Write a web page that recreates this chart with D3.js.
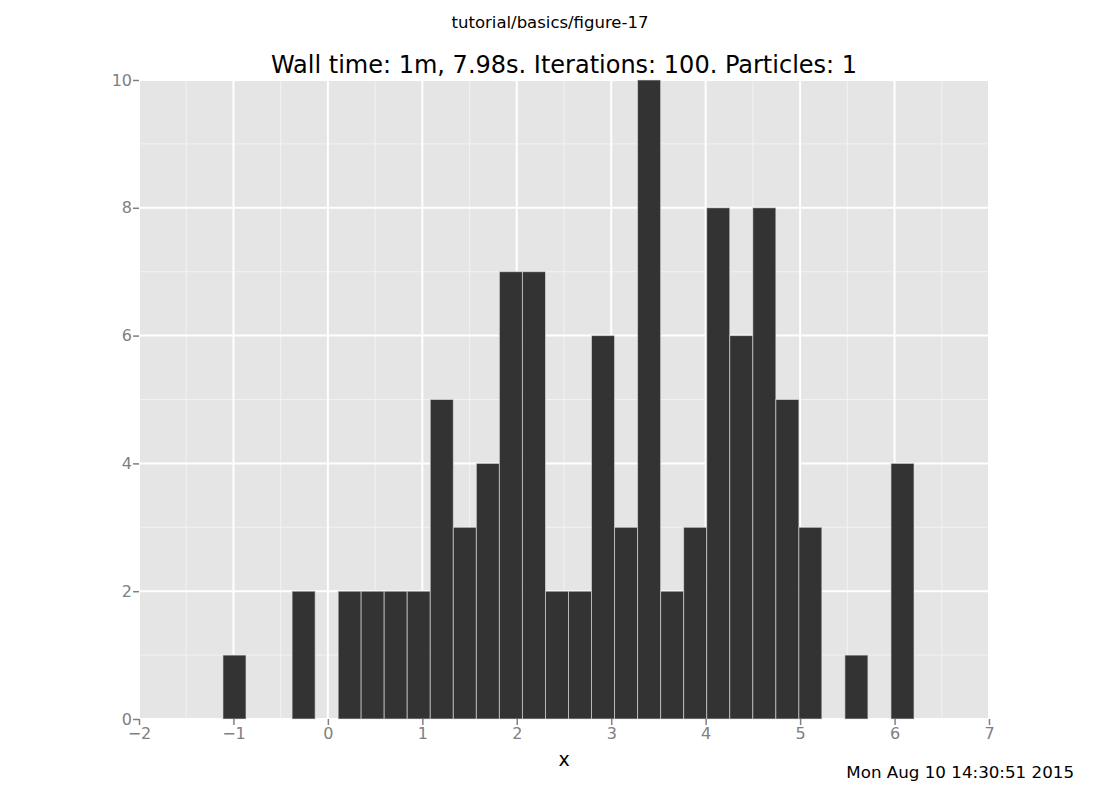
<!DOCTYPE html>
<html>
<head>
<meta charset="utf-8">
<script src="https://cdn.jsdelivr.net/npm/d3@7"></script>
<style>
  body { margin: 0; background: #fff; }
  text { font-family: 'DejaVu Sans', sans-serif; }
</style>
</head>
<body>
<svg id="chart" width="1100" height="800"></svg>
<script>
// histogram bin edges (30 bins) and counts per bin
const binEdges = [-1.111, -0.867, -0.623, -0.379, -0.135, 0.109, 0.352, 0.596, 0.840, 1.084,
  1.328, 1.572, 1.816, 2.060, 2.304, 2.548, 2.791, 3.035, 3.279, 3.523,
  3.767, 4.011, 4.255, 4.499, 4.743, 4.987, 5.230, 5.474, 5.718, 5.962, 6.206]
const counts = [1, 0, 0, 2, 0, 2, 2, 2, 2, 5, 3, 4, 7, 7, 2, 2, 6, 3, 10, 2,
  3, 8, 6, 8, 5, 3, 0, 1, 0, 4]
const xTicks = [-2, -1, 0, 1, 2, 3, 4, 5, 6, 7]
const yTicks = [0, 2, 4, 6, 8, 10]
const xMinor = [-1.5, -0.5, 0.5, 1.5, 2.5, 3.5, 4.5, 5.5, 6.5]
const yMinor = [1, 3, 5, 7, 9]

const margin = { left: 139, top: 80, right: 111, bottom: 81 }
const width = 1100 - margin.left - margin.right
const height = 800 - margin.top - margin.bottom

const svg = d3.select('#chart')

const bins = counts.map((c, i) => ({ x0: binEdges[i], x1: binEdges[i + 1], n: c }))

const x = d3.scaleLinear().domain([-2, 7]).range([0, width])
const y = d3.scaleLinear().domain([0, 10]).range([height, 0])

const g = svg.append('g').attr('transform', `translate(${margin.left},${margin.top})`)

g.append('rect').attr('width', width).attr('height', height).attr('fill', '#e5e5e5')

// minor grid
g.selectAll('.xminor').data(xMinor).join('line')
  .attr('x1', d => x(d)).attr('x2', d => x(d)).attr('y1', 0).attr('y2', height)
  .attr('stroke', '#f2f2f2').attr('stroke-width', 1)
g.selectAll('.yminor').data(yMinor).join('line')
  .attr('y1', d => y(d)).attr('y2', d => y(d)).attr('x1', 0).attr('x2', width)
  .attr('stroke', '#f2f2f2').attr('stroke-width', 1)

// major grid
g.selectAll('.xmajor').data(xTicks).join('line')
  .attr('x1', d => x(d)).attr('x2', d => x(d)).attr('y1', 0).attr('y2', height)
  .attr('stroke', '#ffffff').attr('stroke-width', 2)
g.selectAll('.ymajor').data(yTicks).join('line')
  .attr('y1', d => y(d)).attr('y2', d => y(d)).attr('x1', 0).attr('x2', width)
  .attr('stroke', '#ffffff').attr('stroke-width', 2)

// bars
g.selectAll('.bar').data(bins.filter(d => d.n > 0)).join('rect')
  .attr('class', 'bar')
  .attr('x', d => x(d.x0))
  .attr('width', d => x(d.x1) - x(d.x0))
  .attr('y', d => y(d.n))
  .attr('height', d => y(0) - y(d.n))
  .attr('fill', '#333333')
  .attr('stroke', '#e5e5e5')
  .attr('stroke-opacity', 0.6)
  .attr('stroke-width', 1)

// axes
const xAxis = g.append('g').attr('transform', `translate(0,${height})`)
  .call(d3.axisBottom(x).tickValues(xTicks).tickSize(6).tickPadding(3)
    .tickFormat(d => d < 0 ? '\u2212' + Math.abs(d) : d))
const yAxis = g.append('g')
  .call(d3.axisLeft(y).tickValues(yTicks).tickSize(6).tickPadding(1))
for (const ax of [xAxis, yAxis]) {
  ax.select('.domain').remove()
  ax.selectAll('.tick line').attr('stroke', '#808080').attr('stroke-width', 1.5)
  ax.selectAll('.tick text').attr('fill', '#808080').style('font-size', '16px')
    .style('font-family', 'DejaVu Sans, sans-serif')
}

svg.append('text').attr('x', margin.left + width / 2).attr('y', 766)
  .attr('text-anchor', 'middle').style('font-size', '19px').text('x')

svg.append('text').attr('x', 550).attr('y', 28)
  .attr('text-anchor', 'middle').style('font-size', '16.5px').text('tutorial/basics/figure-17')

svg.append('text').attr('x', margin.left + width / 2).attr('y', 73)
  .attr('text-anchor', 'middle').style('font-size', '24px')
  .text('Wall time: 1m, 7.98s. Iterations: 100. Particles: 1')

svg.append('text').attr('x', 1074).attr('y', 778)
  .attr('text-anchor', 'end').style('font-size', '16.7px').text('Mon Aug 10 14:30:51 2015')
</script>
</body>
</html>
